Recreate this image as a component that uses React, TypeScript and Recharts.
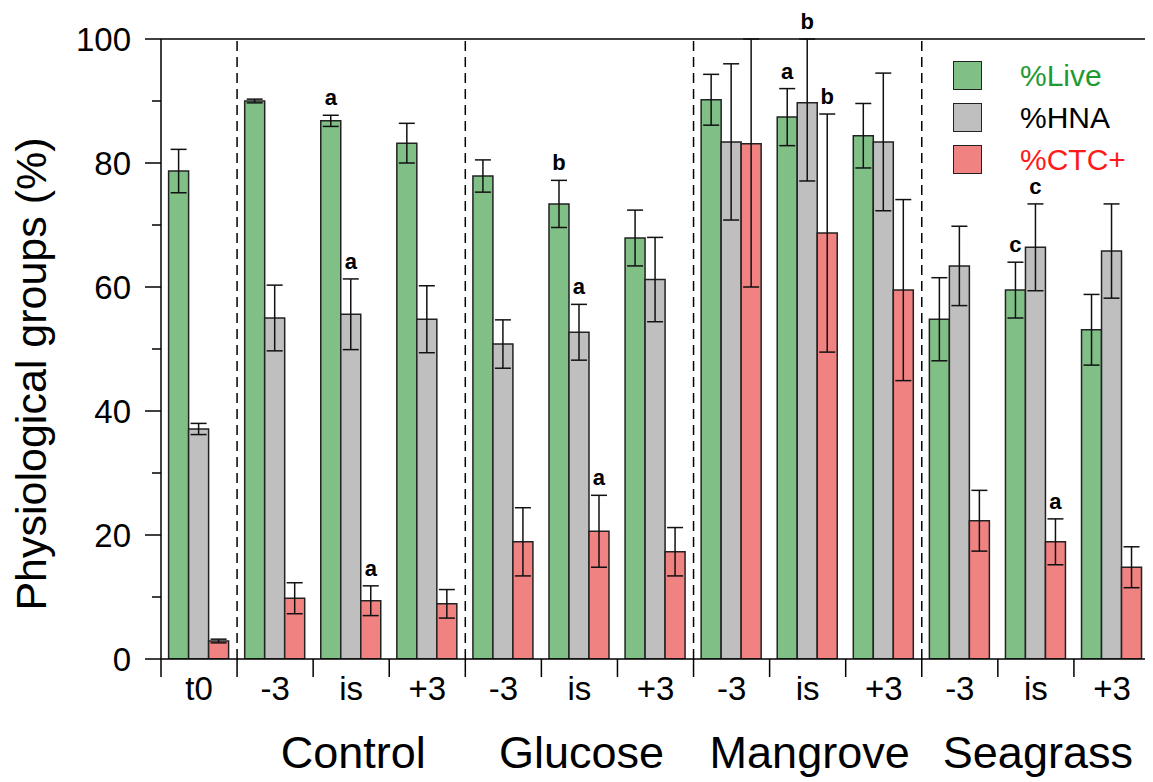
import { BarChart, Bar, XAxis, YAxis, ErrorBar, ReferenceLine, LabelList } from "recharts";

const CHART_W = 1145;
const CHART_H = 774;
const MARGIN = { top: 31, right: 3, left: 0, bottom: 0 };
const Y_AXIS_W = 153;
const X_AXIS_H = 123;
const PLOT_W = CHART_W - MARGIN.left - MARGIN.right - Y_AXIS_W;
const FONT = '"Liberation Sans", Arial, Helvetica, sans-serif';

const COLORS = { live: "#80c087", hna: "#bfbfbf", ctc: "#f08282" };

// categories
const categoryIds = ["t0", "C-3", "Cis", "C+3", "G-3", "Gis", "G+3", "M-3", "Mis", "M+3", "S-3", "Sis", "S+3"];
const tickLabels = ["t0", "-3", "is", "+3", "-3", "is", "+3", "-3", "is", "+3", "-3", "is", "+3"];
const groupNames = ["Control", "Glucose", "Mangrove", "Seagrass"];
const groupStarts = ["C-3", "G-3", "M-3", "S-3"];
const yTicks = [0, 10, 20, 30, 40, 50, 60, 70, 80, 90, 100];

// series
const live = [78.7, 90.0, 86.8, 83.2, 77.9, 73.4, 67.9, 90.2, 87.4, 84.4, 54.8, 59.5, 53.1];
const liveErr = [3.5, 0.3, 0.9, 3.2, 2.6, 3.8, 4.5, 4.1, 4.6, 5.2, 6.7, 4.5, 5.7];
const hna = [37.1, 55.0, 55.6, 54.8, 50.8, 52.7, 61.2, 83.4, 89.7, 83.4, 63.4, 66.4, 65.8];
const hnaErr = [0.9, 5.3, 5.7, 5.4, 3.9, 4.5, 6.8, 12.6, 12.6, 11.1, 6.4, 7.0, 7.6];
const ctc = [2.9, 9.8, 9.4, 8.9, 18.9, 20.6, 17.3, 83.1, 68.7, 59.5, 22.3, 18.9, 14.8];
const ctcErr = [0.3, 2.5, 2.4, 2.3, 5.5, 5.8, 3.9, 23.1, 19.2, 14.6, 4.9, 3.7, 3.3];

// significance letters
const liveSig = ["", "", "a", "", "", "b", "", "", "a", "", "", "c", ""];
const hnaSig = ["", "", "a", "", "", "a", "", "", "b", "", "", "c", ""];
const ctcSig = ["", "", "a", "", "", "a", "", "", "b", "", "", "a", ""];

const legendNames = ["%Live", "%HNA", "%CTC+"];
const legendFills = [COLORS.live, COLORS.hna, COLORS.ctc];
const legendText = ["#1f9a33", "#000000", "#ff1a1a"];

// error bars are cut at the top of the frame (100 %)
const capped = (v: number, e: number) => [e, Math.min(e, 100 - v)];

const data = categoryIds.map((id, i) => ({
  id,
  live: live[i],
  liveErr: capped(live[i], liveErr[i]),
  hna: hna[i],
  hnaErr: capped(hna[i], hnaErr[i]),
  ctc: ctc[i],
  ctcErr: capped(ctc[i], ctcErr[i]),
}));

function XTick(props: any) {
  const { x, y, payload } = props;
  const i = categoryIds.indexOf(payload.value);
  const step = PLOT_W / categoryIds.length;
  const gi = i >= 2 && (i - 2) % 3 === 0 ? (i - 2) / 3 : -1;
  return (
    <g>
      <line x1={x - step / 2} x2={x - step / 2} y1={y} y2={y + 18} stroke="#000" strokeWidth={1.5} />
      {i === categoryIds.length - 1 && (
        <line x1={x + step / 2} x2={x + step / 2} y1={y} y2={y + 18} stroke="#000" strokeWidth={1.5} />
      )}
      <text x={x} y={y + 41} textAnchor="middle" fontSize={33} fill="#000" fontFamily={FONT}>
        {tickLabels[i]}
      </text>
      {gi >= 0 && (
        <text x={x + 2} y={y + 109} textAnchor="middle" fontSize={45} fill="#000" fontFamily={FONT}>
          {groupNames[gi]}
        </text>
      )}
    </g>
  );
}

function YTick(props: any) {
  const { x, y, payload } = props;
  const v = payload.value;
  const major = v % 20 === 0;
  return (
    <g>
      <line x1={x - (major ? 16 : 9)} x2={x} y1={y} y2={y} stroke="#000" strokeWidth={1.5} />
      {major && (
        <text x={x - 30} y={y} dy={12} textAnchor="end" fontSize={33} fill="#000" fontFamily={FONT}>
          {v}
        </text>
      )}
    </g>
  );
}

function sigLabel(values: number[], errs: number[], sig: string[]) {
  return (props: any) => {
    const { x, y, width, height, index } = props;
    const letter = sig[index];
    if (!letter) return null;
    const v = values[index];
    const ppu = height / v;
    const top = Math.min(100, v + errs[index]);
    const ty = y + height - top * ppu;
    return (
      <text
        x={x + width / 2}
        y={ty - 10}
        textAnchor="middle"
        fontSize={22}
        fontWeight="bold"
        fill="#000"
        fontFamily={FONT}
      >
        {letter}
      </text>
    );
  };
}

export default function App() {
  return (
    <div style={{ position: "relative", width: CHART_W, height: CHART_H, fontFamily: FONT }}>
      <BarChart
        width={CHART_W}
        height={CHART_H}
        data={data}
        margin={MARGIN}
        barCategoryGap="10%"
        barGap={0}
      >
        <XAxis
          dataKey="id"
          interval={0}
          height={X_AXIS_H}
          tickLine={false}
          tickSize={0}
          tickMargin={0}
          tick={<XTick />}
          axisLine={{ stroke: "#000", strokeWidth: 1.5 }}
        />
        <YAxis
          domain={[0, 100]}
          ticks={yTicks}
          interval={0}
          allowDataOverflow
          width={Y_AXIS_W}
          tickLine={false}
          tickSize={0}
          tickMargin={0}
          tick={<YTick />}
          axisLine={{ stroke: "#000", strokeWidth: 1.5 }}
          label={{
            content: () => (
              <text
                x={38}
                y={366}
                transform="rotate(-90 38 366)"
                textAnchor="middle"
                fontSize={43}
                fill="#000"
                fontFamily={FONT}
              >
                Physiological groups (%)
              </text>
            ),
          }}
        />
        <ReferenceLine y={100} stroke="#000" strokeWidth={1.5} />
        {groupStarts.map((g) => (
          <ReferenceLine key={g} x={g} position="start" stroke="#000" strokeWidth={1.5} strokeDasharray="10 6" />
        ))}
        <Bar dataKey="live" fill={COLORS.live} stroke="#222" strokeWidth={1.5} isAnimationActive={false}>
          <ErrorBar dataKey="liveErr" width={8} stroke="#111" strokeWidth={1.5} />
          <LabelList dataKey="live" content={sigLabel(live, liveErr, liveSig)} />
        </Bar>
        <Bar dataKey="hna" fill={COLORS.hna} stroke="#222" strokeWidth={1.5} isAnimationActive={false}>
          <ErrorBar dataKey="hnaErr" width={8} stroke="#111" strokeWidth={1.5} />
          <LabelList dataKey="hna" content={sigLabel(hna, hnaErr, hnaSig)} />
        </Bar>
        <Bar dataKey="ctc" fill={COLORS.ctc} stroke="#222" strokeWidth={1.5} isAnimationActive={false}>
          <ErrorBar dataKey="ctcErr" width={8} stroke="#111" strokeWidth={1.5} />
          <LabelList dataKey="ctc" content={sigLabel(ctc, ctcErr, ctcSig)} />
        </Bar>
      </BarChart>
      <div style={{ position: "absolute", left: 945, top: 53 }}>
        {legendNames.map((name, i) => (
          <div key={name} style={{ display: "flex", alignItems: "center", height: 29, marginBottom: 13 }}>
            <div
              style={{
                width: 29,
                height: 29,
                boxSizing: "border-box",
                border: "1.5px solid #222",
                background: legendFills[i],
              }}
            />
            <span style={{ marginLeft: 38, fontSize: 30, lineHeight: "29px", color: legendText[i] }}>{name}</span>
          </div>
        ))}
      </div>
    </div>
  );
}
